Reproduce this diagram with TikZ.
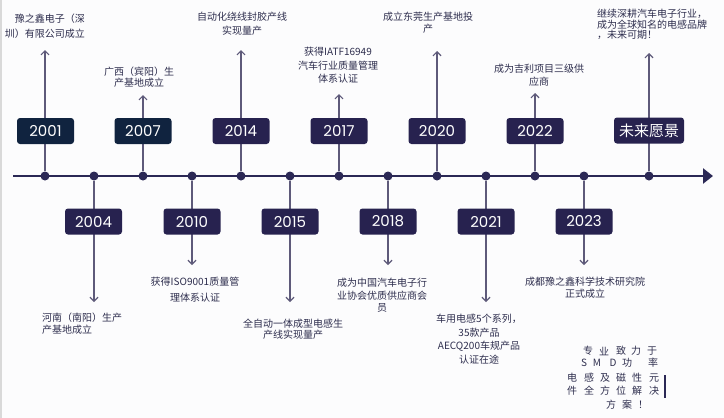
\documentclass[tikz,border=0pt]{standalone}
\usepackage{fontspec}
\newfontfamily\cjk{Noto Sans CJK SC}
\newfontfamily\yearfont{Poppins}
\usetikzlibrary{arrows.meta,backgrounds}
\definecolor{navyb}{HTML}{10233F}
\definecolor{plumb}{HTML}{27224F}
\definecolor{connc}{HTML}{5E5A7A}
\definecolor{axisc}{HTML}{2B2855}
\definecolor{txtc}{HTML}{2E2E4E}
\definecolor{bgc}{HTML}{FCFCFD}
\tikzset{
  yearbox/.style={rounded corners=3pt, fill=plumb, text=white, minimum width=57pt, minimum height=26pt, inner sep=0pt, font=\yearfont\fontsize{15}{15}\selectfont},
  tdot/.style={circle, fill=axisc, minimum size=9pt, inner sep=0pt},
  lbl/.style={text=txtc, inner sep=0pt, font=\cjk\fontsize{10}{#1}\selectfont},
  lbl/.default=13,
  para/.style={text=txtc, inner sep=0pt, font=\cjk\fontsize{10}{12}\selectfont},
  connl/.style={draw=connc, line width=1.2pt, -{Straight Barb[length=4pt,width=8pt]}},
}
\begin{document}
\begin{tikzpicture}[x=1pt,y=-1pt]
\useasboundingbox (0,0) rectangle (724,418);
% axis end points and arrow tips
\coordinate (ax0) at (13,176);
\coordinate (ax1) at (713,176);
\coordinate (t2001) at (45,50);
\coordinate (t2007) at (143,95);
\coordinate (t2014) at (241,50);
\coordinate (t2017) at (339,94);
\coordinate (t2020) at (437,51);
\coordinate (t2022) at (535,93);
\coordinate (tfut) at (649,53);
\coordinate (t2004) at (94,302);
\coordinate (t2010) at (192,265);
\coordinate (t2015) at (290,302);
\coordinate (t2018) at (388,265);
\coordinate (t2021) at (486,302);
\coordinate (t2023) at (584,265);
% dots
\foreach \n/\x in {2001/45,2004/94,2007/143,2010/192,2014/241,2015/290,2017/339,2018/388,2020/437,2021/486,2022/535,2023/584,fut/649}
  \node[tdot] (d\n) at (\x,176) {};
% year boxes
\node[yearbox, fill=navyb] (b2001) at (45.5,131) {2001};
\node[yearbox, fill=navyb] (b2007) at (143,131) {2007};
\node[yearbox] (b2014) at (241,131) {2014};
\node[yearbox] (b2017) at (339,131) {2017};
\node[yearbox] (b2020) at (437,131) {2020};
\node[yearbox] (b2022) at (535,131) {2022};
\node[yearbox, minimum width=70pt, font=\cjk\fontsize{15}{15}\selectfont] (bfut) at (649,130.5) {未来愿景};
\node[yearbox] (b2004) at (93.5,221.5) {2004};
\node[yearbox] (b2010) at (192,221.5) {2010};
\node[yearbox] (b2015) at (290,221.5) {2015};
\node[yearbox] (b2018) at (388,221.5) {2018};
\node[yearbox] (b2021) at (486,221.5) {2021};
\node[yearbox] (b2023) at (584,221.5) {2023};
% labels
\node[lbl=15, anchor=north east, align=right] (l2001) at (85,14) {豫之鑫电子（深\\圳）有限公司成立};
\node[lbl=11, anchor=north, align=center] (l2007) at (139,67) {广西（宾阳）生\\产基地成立};
\node[lbl=14, anchor=north, align=center] (l2014) at (242,12) {自动化绕线封胶产线\\实现量产};
\node[lbl=13.5, anchor=north, align=center] (l2017) at (338,47) {获得IATF16949\\汽车行业质量管理\\体系认证};
\node[lbl=12, anchor=north, align=center] (l2020) at (428,12) {成立东莞生产基地投\\产};
\node[lbl=13, anchor=north, align=center] (l2022) at (539,64) {成为吉利项目三级供\\应商};
\node[lbl=10.5, anchor=north west, align=left] (lfut) at (597,9) {继续深耕汽车电子行业，\\成为全球知名的电感品牌\\，未来可期！};
\node[lbl=12, anchor=north west, align=left] (l2004) at (42,313) {河南（南阳）生产\\产基地成立};
\node[lbl=16, anchor=north, align=center] (l2010) at (195,277) {获得ISO9001质量管\\理体系认证};
\node[lbl=11, anchor=north, align=center] (l2015) at (293,319) {全自动一体成型电感生\\产线实现量产};
\node[lbl=12.5, anchor=north, align=center] (l2018) at (382,278) {成为中国汽车电子行\\业协会优质供应商会\\员};
\node[lbl=13.5, anchor=north, align=center] (l2021) at (479,314) {车用电感5个系列，\\35款产品\\AECQ200车规产品\\认证在途};
\node[lbl=12, anchor=north, align=center] (l2023) at (585,277) {成都豫之鑫科学技术研究院\\正式成立};
% spaced paragraph
\foreach \x/\y/\c [count=\i] in {588/351/专,604/351/业,621/351/致,636/351/力,652/351/于,
  584/363/S,597/363/M,613/363/D,627/363/功,653/363/率,
  572/378/电,589/378/感,605/378/及,621/378/磁,637/378/性,654/378/元,
  572/391/件,589/391/全,605/391/方,621/391/位,637/391/解,654/391/决,
  611/405/方,627/405/案,643/405/！}
  \node[para] (pc\i) at (\x,\y) {\c};
\coordinate (bar0) at (665,375);
\coordinate (bar1) at (665,398);
\begin{pgfonlayer}{background}
  \fill[bgc] (0,0) rectangle (724,418);
  \fill[black!15] (0,0) rectangle (1.5,418);
  \draw[axisc, line width=2.5pt, -{Triangle[length=10pt,width=15pt]}] (ax0) -- (ax1);
  \foreach \n in {2001,2007,2014,2017,2020,2022,fut,2004,2010,2015,2018,2021,2023}
    \draw[connl] (d\n) -- (t\n);
  \draw[axisc, line width=1.2pt] (bar0) -- (bar1);
\end{pgfonlayer}
\end{tikzpicture}
\end{document}
